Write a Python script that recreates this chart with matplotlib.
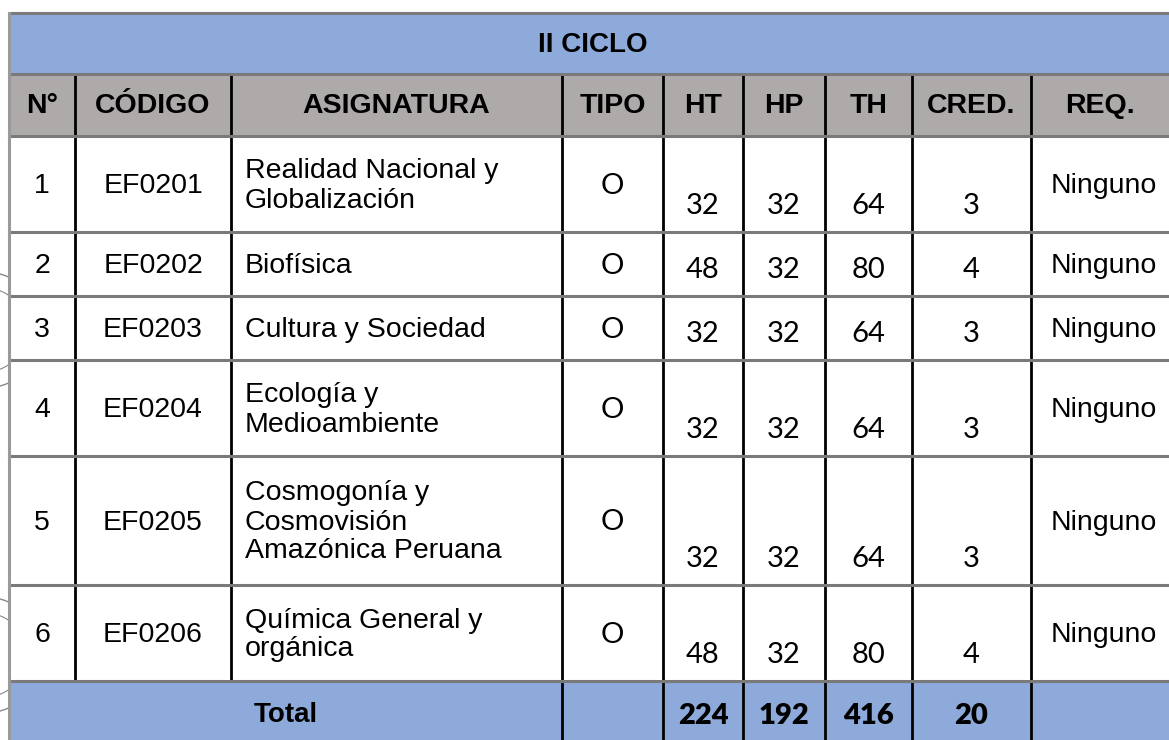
import matplotlib
matplotlib.use("Agg")
import matplotlib.pyplot as plt
from matplotlib.patches import Rectangle, Circle

title = "II CICLO"
headers = ["N°", "CÓDIGO", "ASIGNATURA", "TIPO", "HT", "HP", "TH", "CRED.", "REQ."]
nums = ["1", "2", "3", "4", "5", "6"]
codes = ["EF0201", "EF0202", "EF0203", "EF0204", "EF0205", "EF0206"]
subjects = ["Realidad Nacional y\nGlobalización", "Biofísica", "Cultura y Sociedad",
            "Ecología y\nMedioambiente", "Cosmogonía y\nCosmovisión\nAmazónica Peruana",
            "Química General y\norgánica"]
tipo = ["O", "O", "O", "O", "O", "O"]
ht = [32, 48, 32, 32, 32, 48]
hp = [32, 32, 32, 32, 32, 32]
th = [64, 80, 64, 64, 64, 80]
cred = [3, 4, 3, 3, 3, 4]
req = ["Ninguno"] * 6
totals = ["224", "192", "416", "20"]

# layout (pixels)
W, H = 1169, 740
xs = [9, 75, 231, 562, 663, 743, 825, 912, 1031, 1175]
title_y = (13, 74)
head_y = (74, 136)
row_edges = [136, 232, 296, 360, 456, 585, 681]
total_y = (681, 745)

BLUE = "#8eaadb"
GRAY = "#aeaaaa"
LINEG = "#7a7a7a"

fig = plt.figure(figsize=(W / 100, H / 100), dpi=100)
ax = fig.add_axes([0, 0, 1, 1])
ax.set_xlim(0, W)
ax.set_ylim(H, 0)
ax.axis("off")

# seals (decorative, partially visible at left)
for cy in (330, 655):
    for r, lw in ((58, 1.0), (42, 0.8)):
        ax.add_patch(Circle((-15, cy), r, fill=False, ec="#888888", lw=lw, zorder=0))

ax.add_patch(Rectangle((xs[0], title_y[0]), xs[-1] - xs[0], title_y[1] - title_y[0], fc=BLUE, ec="none"))
ax.add_patch(Rectangle((xs[0], head_y[0]), xs[-1] - xs[0], head_y[1] - head_y[0], fc=GRAY, ec="none"))
ax.add_patch(Rectangle((xs[0], row_edges[0]), xs[-1] - xs[0], row_edges[-1] - row_edges[0], fc="white", ec="none", zorder=0.5))
ax.add_patch(Rectangle((xs[0], total_y[0]), xs[-1] - xs[0], total_y[1] - total_y[0], fc=BLUE, ec="none"))

# horizontal lines
for y in [title_y[0], title_y[1], head_y[1]] + row_edges[1:]:
    ax.plot([xs[0], xs[-1]], [y, y], color=LINEG, lw=2.2, zorder=3)
# left outer border
ax.plot([xs[0], xs[0]], [title_y[0], H], color="#9a9a9a", lw=2.2, zorder=3)
# vertical lines (black) header + body
for x in xs[1:-1]:
    ax.plot([x, x], [head_y[0], row_edges[-1]], color="black", lw=2.0, zorder=2)
# total row vertical lines
for x in xs[3:-1]:
    ax.plot([x, x], [total_y[0], H], color="black", lw=2.0, zorder=2)

hfont = dict(family=["Liberation Sans", "DejaVu Sans"], fontweight="bold")
bfont = dict(family=["Liberation Sans", "DejaVu Sans"])
nfont = dict(family=["Lato", "DejaVu Sans"])

ax.text(593, sum(title_y) / 2 + 1, title, ha="center", va="center", fontsize=20, **hfont)
for i, h in enumerate(headers):
    ax.text((xs[i] + min(xs[i + 1], W)) / 2, sum(head_y) / 2 + 1, h, ha="center", va="center", fontsize=20.5, **hfont)

for r in range(6):
    top, bot = row_edges[r], row_edges[r + 1]
    cy = (top + bot) / 2
    ny = bot - min(26, (bot - top) / 2 - 1)
    ax.text((xs[0] + xs[1]) / 2, cy + 2, nums[r], ha="center", va="center", fontsize=20.5, **bfont)
    ax.text((xs[1] + xs[2]) / 2, cy + 2, codes[r], ha="center", va="center", fontsize=20.5, **bfont)
    ax.text(xs[2] + 14, cy + 2, subjects[r], ha="left", va="center", fontsize=20.5, linespacing=1.15, **bfont)
    ax.text((xs[3] + xs[4]) / 2, cy + 2, tipo[r], ha="center", va="center", fontsize=21, **nfont)
    for j, vals in enumerate([ht, hp, th, cred]):
        ax.text((xs[4 + j] + xs[5 + j]) / 2, ny, str(vals[r]), ha="center", va="center", fontsize=21, **nfont)
    ax.text(xs[8] + 20, cy + 2, req[r], ha="left", va="center", fontsize=20.5, **bfont)

ty = (total_y[0] + H) / 2 + 6
ax.text((xs[0] + xs[3]) / 2, ty - 2, "Total", ha="center", va="center", fontsize=20, **hfont)
for j, t in enumerate(totals):
    ax.text((xs[4 + j] + xs[5 + j]) / 2, ty, t, ha="center", va="center", fontsize=21,
            family=["Lato", "DejaVu Sans"], fontweight="heavy")

fig.savefig("out.png", dpi=100)
